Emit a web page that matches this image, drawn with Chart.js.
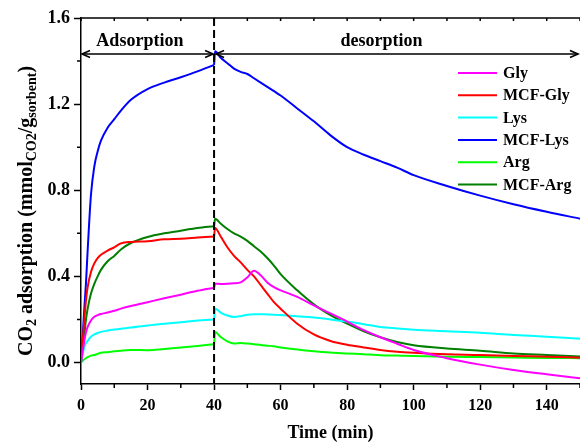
<!DOCTYPE html>
<html>
<head>
<meta charset="utf-8">
<script src="https://cdn.jsdelivr.net/npm/chart.js@4/dist/chart.umd.min.js"></script>
<style>
  html, body { margin: 0; padding: 0; background: #fff; }
  #wrap { width: 580px; height: 442px; }
</style>
</head>
<body>
<div id="wrap"><canvas id="c" width="580" height="442"></canvas></div>
<script>
// ---------------- data ----------------
const timeMin = [0, 0.5, 1, 1.5, 2, 3, 4, 5, 6, 8, 10, 12, 15, 20, 25, 30, 35, 40, 40.3,
  42, 44, 46, 48, 50, 52, 54, 56, 58, 60, 65, 70, 75, 80, 85, 90, 95, 100, 110, 120, 130, 140, 150];

const gly = [0, 0.05, 0.10, 0.14, 0.165, 0.195, 0.212, 0.22, 0.225, 0.232, 0.24, 0.25, 0.262, 0.28, 0.298, 0.315, 0.333, 0.347, 0.366,
  0.365, 0.366, 0.368, 0.372, 0.395, 0.426, 0.405, 0.372, 0.35, 0.335, 0.305, 0.265, 0.228, 0.19, 0.15, 0.117, 0.087, 0.058, 0.02, -0.01, -0.035, -0.055, -0.073];

const mcfGly = [0, 0.10, 0.20, 0.29, 0.35, 0.42, 0.46, 0.485, 0.50, 0.52, 0.535, 0.553, 0.56, 0.563, 0.572, 0.575, 0.58, 0.585, 0.625,
  0.585, 0.535, 0.495, 0.465, 0.43, 0.40, 0.36, 0.32, 0.28, 0.25, 0.18, 0.13, 0.10, 0.082, 0.07, 0.058, 0.05, 0.045, 0.038, 0.035, 0.03, 0.027, 0.022];

const lys = [0, 0.04, 0.071, 0.09, 0.10, 0.12, 0.13, 0.137, 0.142, 0.148, 0.153, 0.157, 0.162, 0.172, 0.18, 0.187, 0.195, 0.20, 0.25,
  0.232, 0.218, 0.211, 0.215, 0.222, 0.224, 0.224, 0.223, 0.222, 0.22, 0.215, 0.209, 0.20, 0.19, 0.178, 0.165, 0.158, 0.152, 0.145, 0.138, 0.128, 0.12, 0.11];

const mcfLys = [0, 0.12, 0.25, 0.37, 0.52, 0.78, 0.91, 0.98, 1.03, 1.09, 1.13, 1.17, 1.22, 1.27, 1.30, 1.325, 1.352, 1.382, 1.445,
  1.415, 1.39, 1.365, 1.35, 1.34, 1.32, 1.30, 1.28, 1.26, 1.24, 1.18, 1.12, 1.055, 1.00, 0.965, 0.935, 0.905, 0.87, 0.82, 0.775, 0.735, 0.70, 0.668];

const arg = [0, 0.008, 0.015, 0.02, 0.025, 0.032, 0.035, 0.04, 0.045, 0.048, 0.052, 0.055, 0.058, 0.057, 0.063, 0.07, 0.077, 0.085, 0.141,
  0.118, 0.098, 0.088, 0.09, 0.088, 0.085, 0.081, 0.078, 0.075, 0.07, 0.06, 0.052, 0.046, 0.042, 0.038, 0.034, 0.032, 0.03, 0.027, 0.025, 0.023, 0.021, 0.02];

const mcfArg = [0, 0.06, 0.13, 0.20, 0.25, 0.32, 0.365, 0.40, 0.43, 0.47, 0.495, 0.525, 0.555, 0.583, 0.60, 0.612, 0.625, 0.633, 0.668,
  0.645, 0.62, 0.60, 0.585, 0.565, 0.54, 0.515, 0.485, 0.45, 0.41, 0.335, 0.27, 0.22, 0.18, 0.145, 0.117, 0.095, 0.08, 0.065, 0.055, 0.042, 0.035, 0.028];

const seriesNames = ['Gly', 'MCF-Gly', 'Lys', 'MCF-Lys', 'Arg', 'MCF-Arg'];
const seriesColors = ['#ff00ff', '#ff0000', '#00ffff', '#0000ff', '#00ff00', '#007f00'];
const seriesValues = [gly, mcfGly, lys, mcfLys, arg, mcfArg];

const xTickValues = [0, 20, 40, 60, 80, 100, 120, 140];
const xMinorValues = [10, 30, 50, 70, 90, 110, 130, 150];
const yTickValues = [0, 0.4, 0.8, 1.2, 1.6];
const yMinorValues = [0.2, 0.6, 1.0, 1.4];
const phaseSplit = 40;       // min, end of adsorption
const arrowLevel = 1.433;    // level of the phase arrows
const phaseLabels = ['Adsorption', 'desorption'];

// ---------------- chart ----------------
const SERIF = "'Liberation Serif', 'Times New Roman', serif";
Chart.defaults.font.family = SERIF;
Chart.defaults.color = '#000';

// each series is drawn as an adsorption part (t <= 40) and a desorption part (t >= 40)
const datasets = [];
seriesNames.forEach((name, i) => {
  const pts = timeMin.map((t, k) => ({ x: t, y: seriesValues[i][k] }));
  const common = {
    label: name,
    borderColor: seriesColors[i],
    backgroundColor: seriesColors[i],
    borderWidth: 2,
    pointRadius: 0,
    fill: false,
    cubicInterpolationMode: 'monotone'
  };
  datasets.push(Object.assign({}, common, { data: pts.filter(p => p.x <= phaseSplit) }));
  datasets.push(Object.assign({}, common, { data: pts.filter(p => p.x >= phaseSplit) }));
});

function arrowHead(ctx, x, y, dir) {
  ctx.beginPath();
  ctx.moveTo(x - dir * 8, y - 3.5);
  ctx.lineTo(x, y);
  ctx.lineTo(x - dir * 8, y + 3.5);
  ctx.stroke();
}

const decor = {
  id: 'decor',
  afterDatasetsDraw(chart) {
    const ctx = chart.ctx;
    const xs = chart.scales.x, ys = chart.scales.y;
    const area = chart.chartArea;
    ctx.save();
    // dashed separator
    const xs40 = xs.getPixelForValue(phaseSplit);
    ctx.strokeStyle = '#000';
    ctx.lineWidth = 2;
    ctx.setLineDash([8, 4]);
    ctx.beginPath();
    ctx.moveTo(xs40, area.top);
    ctx.lineTo(xs40, area.bottom);
    ctx.stroke();
    ctx.setLineDash([]);
    // arrows
    const ay = ys.getPixelForValue(arrowLevel);
    const x0 = xs.getPixelForValue(0), x1 = xs.getPixelForValue(xs.max);
    ctx.lineWidth = 1.6;
    ctx.beginPath();
    ctx.moveTo(x0 + 1, ay); ctx.lineTo(xs40 - 1, ay);
    ctx.moveTo(xs40 + 2, ay); ctx.lineTo(x1 - 2, ay);
    ctx.stroke();
    arrowHead(ctx, x0 + 1, ay, -1);
    arrowHead(ctx, xs40 - 1, ay, 1);
    arrowHead(ctx, xs40 + 2, ay, -1);
    arrowHead(ctx, x1 - 2, ay, 1);
    // phase labels
    ctx.fillStyle = '#000';
    ctx.font = 'bold 18px ' + SERIF;
    ctx.textAlign = 'center';
    ctx.textBaseline = 'middle';
    ctx.fillText(phaseLabels[0], xs.getPixelForValue(17.7), ys.getPixelForValue(1.493));
    ctx.fillText(phaseLabels[1], xs.getPixelForValue(90.3), ys.getPixelForValue(1.49));
    // legend
    ctx.font = 'bold 16px ' + SERIF;
    ctx.textAlign = 'left';
    seriesNames.forEach((name, i) => {
      const ly = 73 + i * 22.3;
      ctx.strokeStyle = seriesColors[i];
      ctx.lineWidth = 2;
      ctx.beginPath();
      ctx.moveTo(458, ly); ctx.lineTo(497, ly);
      ctx.stroke();
      ctx.fillText(name, 503, ly + 1);
    });
    ctx.restore();
  },
  afterDraw(chart) {
    const ctx = chart.ctx;
    const xs = chart.scales.x, ys = chart.scales.y;
    const area = chart.chartArea;
    ctx.save();
    ctx.strokeStyle = '#000';
    ctx.lineWidth = 1.5;
    // top axis line
    ctx.beginPath();
    ctx.moveTo(area.left, area.top); ctx.lineTo(area.right, area.top);
    ctx.stroke();
    // minor ticks
    ctx.beginPath();
    xMinorValues.forEach(v => {
      const px = xs.getPixelForValue(v);
      ctx.moveTo(px, area.bottom); ctx.lineTo(px, area.bottom + 4);
    });
    yMinorValues.forEach(v => {
      const py = ys.getPixelForValue(v);
      ctx.moveTo(area.left, py); ctx.lineTo(area.left - 4, py);
    });
    // top ticks (inward)
    xTickValues.concat(xMinorValues).forEach(v => {
      const px = xs.getPixelForValue(v);
      ctx.moveTo(px, area.top); ctx.lineTo(px, area.top + 3);
    });
    ctx.stroke();
    // y-axis title with subscripts
    const segs = [['CO', 0], ['2', 1], [' adsorption (mmol', 0], ['CO2', 1], ['/g', 0], ['sorbent', 1], [')', 0]];
    const mainF = 'bold 20px ' + SERIF, subF = 'bold 14px ' + SERIF;
    let total = 0;
    segs.forEach(s => { ctx.font = s[1] ? subF : mainF; total += ctx.measureText(s[0]).width; });
    ctx.translate(32, 211);
    ctx.rotate(-Math.PI / 2);
    ctx.fillStyle = '#000';
    ctx.textAlign = 'left';
    ctx.textBaseline = 'alphabetic';
    let cx = -total / 2;
    segs.forEach(s => {
      ctx.font = s[1] ? subF : mainF;
      ctx.fillText(s[0], cx, s[1] ? 4 : 0);
      cx += ctx.measureText(s[0]).width;
    });
    ctx.restore();
  }
};

new Chart(document.getElementById('c'), {
  type: 'line',
  data: { datasets },
  options: {
    responsive: false,
    animation: false,
    layout: { padding: { top: 18, right: 0, left: 0, bottom: 0 } },
    plugins: { legend: { display: false }, tooltip: { enabled: false } },
    scales: {
      x: {
        type: 'linear',
        min: 0, max: 150,
        afterBuildTicks: s => { s.ticks = xTickValues.map(v => ({ value: v })); },
        afterFit: s => { s.height = 58; },
        ticks: { font: { size: 16, weight: 'bold' }, color: '#000', padding: 6, maxRotation: 0,
                 callback: v => String(v) },
        grid: { display: true, drawOnChartArea: false, drawTicks: true, tickLength: 6, tickWidth: 1.5, tickColor: '#000' },
        border: { display: true, color: '#000', width: 1.5 },
        title: { display: true, text: 'Time (min)', font: { size: 18, weight: 'bold', lineHeight: 1 }, color: '#000', padding: 0 }
      },
      y: {
        type: 'linear',
        min: -0.1, max: 1.6,
        afterBuildTicks: s => { s.ticks = yTickValues.map(v => ({ value: v })); },
        afterFit: s => { s.width = 81; },
        ticks: { font: { size: 18, weight: 'bold' }, color: '#000', padding: 4,
                 callback: v => Number(v).toFixed(1) },
        grid: { display: true, drawOnChartArea: false, drawTicks: true, tickLength: 7, tickWidth: 1.5, tickColor: '#000' },
        border: { display: true, color: '#000', width: 1.5 }
      }
    }
  },
  plugins: [decor]
});
</script>
</body>
</html>
